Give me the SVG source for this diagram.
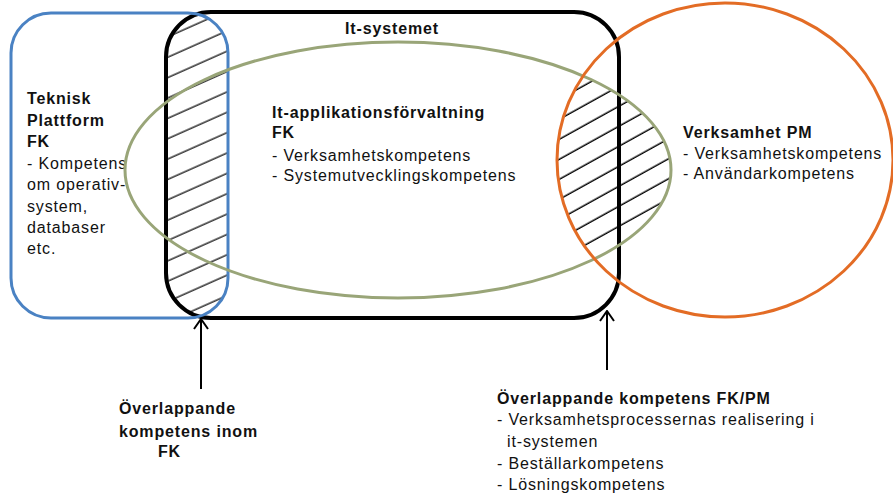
<svg xmlns="http://www.w3.org/2000/svg" width="893" height="495" viewBox="0 0 893 495">
<style>
text{font-family:"Liberation Sans",Arial,sans-serif;font-size:16px;fill:#111;letter-spacing:0.85px}
.b{font-weight:bold}
.hl{stroke:#000;stroke-width:1.3}
</style>
<defs>
<pattern id="hatchL" patternUnits="userSpaceOnUse" width="40" height="18.6" patternTransform="rotate(-24)">
<line x1="0" y1="9" x2="40" y2="9" class="hl"/>
</pattern>
<pattern id="hatchR" patternUnits="userSpaceOnUse" width="40" height="17.5" patternTransform="rotate(-29)">
<line x1="0" y1="8" x2="40" y2="8" class="hl"/>
</pattern>
<clipPath id="cBlack"><rect x="166" y="12" width="453" height="306" rx="45"/></clipPath>
<clipPath id="cBlue"><rect x="11" y="13" width="217" height="305" rx="40"/></clipPath>
<clipPath id="cGreen"><ellipse cx="398" cy="170" rx="273" ry="128"/></clipPath>
<clipPath id="cOrange"><ellipse cx="725" cy="160" rx="168" ry="157"/></clipPath>
<marker id="arr" viewBox="0 0 12 16" refX="11" refY="8" markerWidth="12" markerHeight="16" markerUnits="userSpaceOnUse" orient="auto">
<path d="M1,1 L11,8 L1,15" fill="none" stroke="#000" stroke-width="2"/>
</marker>
</defs>

<g id="hatch-left" clip-path="url(#cBlack)"><g clip-path="url(#cBlue)"><rect x="150" y="0" width="100" height="330" fill="url(#hatchL)"/></g></g>
<g id="hatch-right" clip-path="url(#cGreen)"><g clip-path="url(#cOrange)"><rect x="540" y="60" width="150" height="240" fill="url(#hatchR)"/></g></g>

<g id="it-systemet">
<rect x="166" y="12" width="453" height="306" rx="45" fill="none" stroke="#000" stroke-width="4"/>
<text class="b" x="392" y="34" text-anchor="middle">It-systemet</text>
</g>
<g id="teknisk-plattform">
<rect x="11" y="13" width="217" height="305" rx="40" fill="none" stroke="#4a82c3" stroke-width="3"/>
<text class="b" x="27" y="104">Teknisk</text>
<text class="b" x="27" y="126">Plattform</text>
<text class="b" x="27" y="147">FK</text>
<text x="27" y="169">- Kompetens</text>
<text x="27" y="190">om operativ-</text>
<text x="27" y="212">system,</text>
<text x="27" y="233">databaser</text>
<text x="27" y="254">etc.</text>
</g>
<g id="it-applikationsforvaltning">
<ellipse cx="398" cy="170" rx="273" ry="128" fill="none" stroke="#99a578" stroke-width="3"/>
<text class="b" x="272" y="118">It-applikationsförvaltning</text>
<text class="b" x="272" y="138">FK</text>
<text x="272" y="161">- Verksamhetskompetens</text>
<text x="272" y="181">- Systemutvecklingskompetens</text>
</g>
<g id="verksamhet-pm">
<ellipse cx="725" cy="160" rx="168" ry="157" fill="none" stroke="#e36c25" stroke-width="3"/>
<text class="b" x="683" y="138">Verksamhet PM</text>
<text x="683" y="159">- Verksamhetskompetens</text>
<text x="683" y="179">- Användarkompetens</text>
</g>

<g id="connectors" fill="none" stroke="#000" stroke-width="2">
<line x1="201" y1="389" x2="201" y2="319" marker-end="url(#arr)"/>
<line x1="607" y1="370" x2="607" y2="311" marker-end="url(#arr)"/>
</g>

<g id="label-overlap-fk">
<text class="b" x="119" y="414">Överlappande</text>
<text class="b" x="119" y="437">kompetens inom</text>
<text class="b" x="158" y="457">FK</text>
</g>
<g id="label-overlap-fkpm">
<text class="b" x="497" y="404">Överlappande kompetens FK/PM</text>
<text x="497" y="425">- Verksamhetsprocessernas realisering i</text>
<text x="507" y="447">it-systemen</text>
<text x="497" y="469">- Beställarkompetens</text>
<text x="497" y="490">- Lösningskompetens</text>
</g>
</svg>
